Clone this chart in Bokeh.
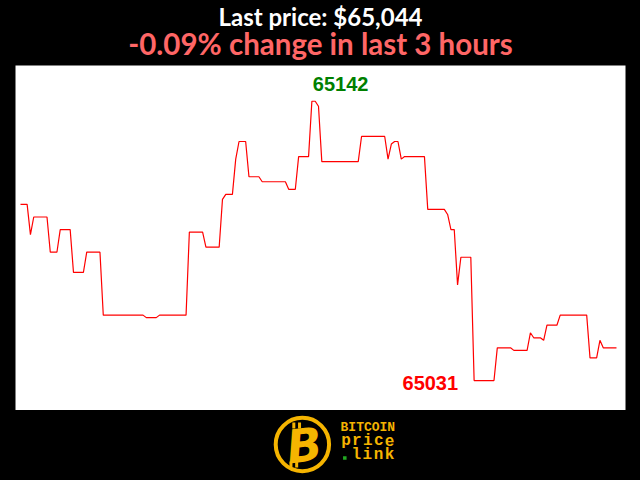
from bokeh.plotting import figure
from bokeh.layouts import column
from bokeh.models import Range1d, GlobalInlineStyleSheet
from bokeh.core.properties import value
from bokeh.embed import file_html
from bokeh.resources import INLINE

# ---- data: one price per minute over the last 3 hours ----
minutes = list(range(181))
prices = [
    65101, 65101, 65101, 65089, 65096, 65096, 65096, 65096, 65096, 65082,
    65082, 65082, 65091, 65091, 65091, 65091, 65074, 65074, 65074, 65074,
    65082, 65082, 65082, 65082, 65082, 65057, 65057, 65057, 65057, 65057,
    65057, 65057, 65057, 65057, 65057, 65057, 65057, 65057, 65056, 65056,
    65056, 65056, 65057, 65057, 65057, 65057, 65057, 65057, 65057, 65057,
    65057, 65090, 65090, 65090, 65090, 65090, 65084, 65084, 65084, 65084,
    65084, 65103, 65105, 65105, 65105, 65119, 65126, 65126, 65126, 65112,
    65112, 65112, 65112, 65110, 65110, 65110, 65110, 65110, 65110, 65110,
    65110, 65107, 65107, 65107, 65120, 65120, 65120, 65120, 65142, 65142,
    65140, 65118, 65118, 65118, 65118, 65118, 65118, 65118, 65118, 65118,
    65118, 65118, 65118, 65128, 65128, 65128, 65128, 65128, 65128, 65128,
    65128, 65119, 65125, 65126, 65126, 65119, 65120, 65120, 65120, 65120,
    65120, 65120, 65120, 65099, 65099, 65099, 65099, 65099, 65099, 65097,
    65091, 65091, 65069, 65080, 65080, 65080, 65080, 65031, 65031, 65031,
    65031, 65031, 65031, 65031, 65044, 65044, 65044, 65044, 65044, 65043,
    65043, 65043, 65043, 65043, 65050, 65048, 65048, 65048, 65047, 65053,
    65053, 65053, 65053, 65057, 65057, 65057, 65057, 65057, 65057, 65057,
    65057, 65057, 65040, 65040, 65040, 65047, 65044, 65044, 65044, 65044,
    65044,
]

last_price = prices[-1]
change_pct = (prices[-1] - prices[0]) / prices[0] * 100
title_text = f"Last price: ${last_price:,}"
subtitle_text = f"{change_pct:.2f}% change in last 3 hours"

max_p = max(prices)
min_p = min(prices)
max_i = minutes[prices.index(max_p)]
min_i = minutes[prices.index(min_p)]

BLACK = "#000000"
GOLD = "#f5b400"
W = 640


def bare(fig):
    fig.axis.visible = False
    fig.grid.visible = False
    fig.outline_line_color = None
    fig.min_border = 0
    return fig


# ---- header (page-pixel coordinates) ----
head = bare(figure(width=W, height=65, x_range=Range1d(0, W), y_range=Range1d(65, 0),
                   toolbar_location=None, output_backend="svg",
                   background_fill_color=BLACK, border_fill_color=BLACK))
head.text(x=[W / 2], y=[15.5], text=[title_text], text_color="white",
          text_font=value("Lato"), text_font_style="bold", text_font_size="24px",
          text_align="center", text_baseline="alphabetic")
head.text(x=[W / 2], y=[42.5], text=[subtitle_text], text_color="#ff6666",
          text_font=value("Lato"), text_font_style="bold", text_font_size="29.5px",
          text_align="center", text_baseline="alphabetic")

# ---- main chart ----
p = figure(width=W, height=345, x_range=Range1d(-1.51, 182.72),
           y_range=Range1d(65019.1, 65156.2), toolbar_location=None,
           output_backend="svg", background_fill_color="white",
           border_fill_color=BLACK)
bare(p)
p.min_border_left = 15
p.min_border_right = 15
p.line(minutes, prices, line_color="#ff0000", line_width=1.2)
p.text(x=[max_i], y=[max_p], text=[str(max_p)], text_color="#008000",
       text_font=value("Liberation Sans"), text_font_style="bold",
       text_font_size="20px", text_align="left", text_baseline="alphabetic",
       x_offset=1, y_offset=-17.5)
p.text(x=[min_i], y=[min_p], text=[str(min_p)], text_color="#ff0000",
       text_font=value("Liberation Sans"), text_font_style="bold",
       text_font_size="20px", text_align="right", text_baseline="alphabetic",
       x_offset=-16, y_offset=2.5)

# ---- footer logo (page-pixel coordinates) ----
foot = bare(figure(width=W, height=70, x_range=Range1d(0, W), y_range=Range1d(480, 410),
                   toolbar_location=None, output_backend="svg",
                   background_fill_color=BLACK, border_fill_color=BLACK))
foot.circle(x=[301], y=[444], radius=28, fill_color=None, line_color=GOLD, line_width=4)
foot.text(x=[303], y=[445], text=["B"], text_color=GOLD, text_font=value("DejaVu Sans"),
          text_font_style="bold italic", text_font_size="46px", text_align="center",
          text_baseline="middle", angle=0.12)
foot.segment(x0=[292, 298, 289, 295], y0=[422, 422, 461, 461],
             x1=[292, 298, 289, 295], y1=[428, 428, 467, 467],
             line_color=GOLD, line_width=3)
logo_rows = [("BITCOIN", 341, 8.19, 427, "13px"),
             ("price", 341, 11.46, 440, "16px"),
             ("link", 351.7, 11.65, 454, "16px")]
for word, x0, step, base, fsize in logo_rows:
    xs = [x0 + step * (k + 0.5) for k in range(len(word))]
    foot.text(x=xs, y=[base] * len(word), text=list(word), text_color=GOLD,
              text_font=value("Liberation Mono"), text_font_style="bold",
              text_font_size=fsize, text_align="center", text_baseline="alphabetic")
foot.scatter(x=[345.5], y=[457.5], marker="square", size=3.5, fill_color="#22aa22",
             line_color=None)

layout = column(head, p, foot, spacing=0)
layout.stylesheets = [GlobalInlineStyleSheet(css="html,body{background:#000;margin:0;padding:0;overflow:hidden;}")]

open("out.html", "w").write(file_html(layout, INLINE))
